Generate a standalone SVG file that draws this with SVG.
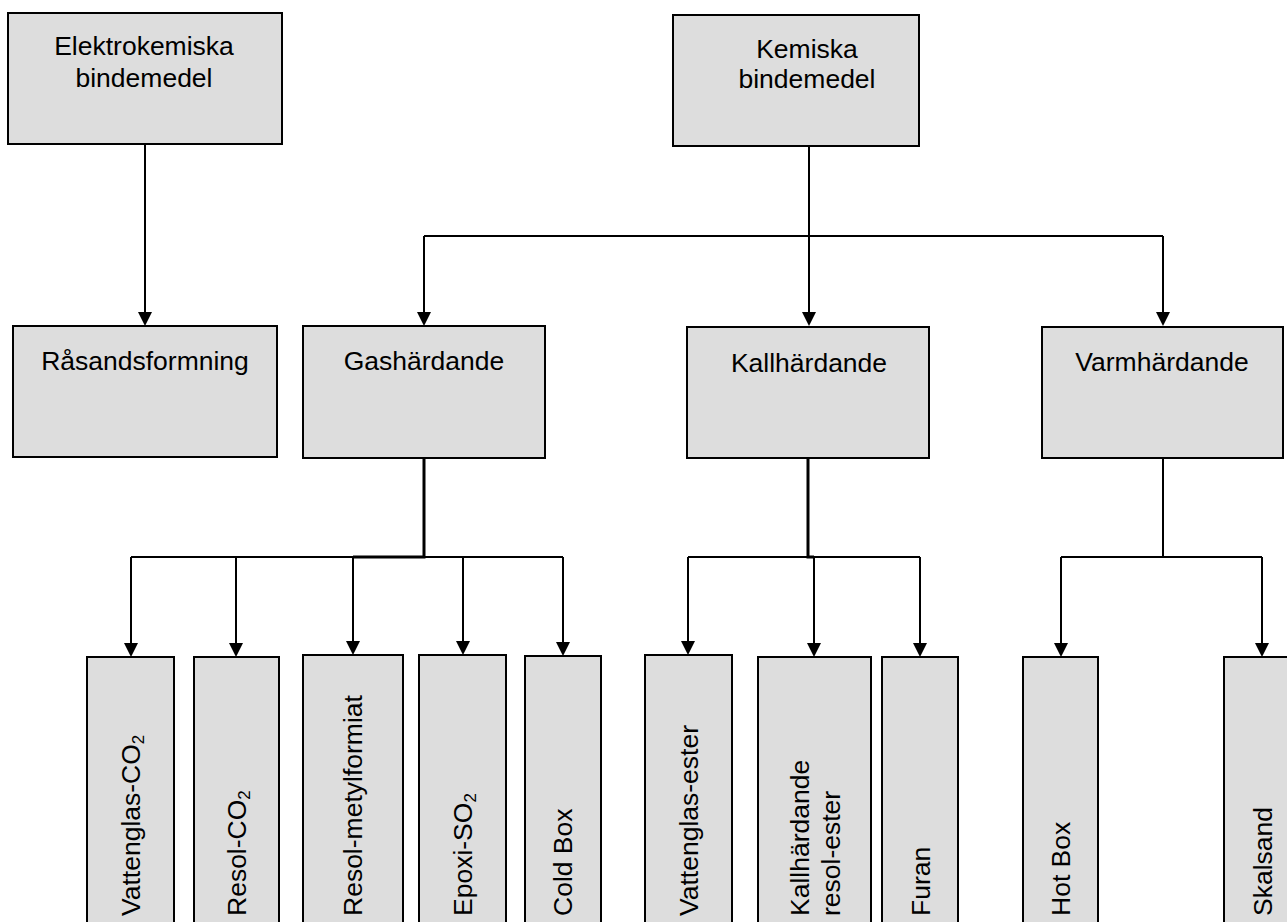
<svg xmlns="http://www.w3.org/2000/svg" width="1287" height="922" viewBox="0 0 1287 922">
<style>
.box{fill:#dddddd;stroke:#000;stroke-width:2}
.t{font-family:"Liberation Sans",Arial,sans-serif;font-size:26.5px;fill:#000}
.c{text-anchor:middle}
.ln{fill:none;stroke:#000;stroke-width:2}
.th{fill:none;stroke:#000;stroke-width:3}
</style>
<defs>
<marker id="ah" markerUnits="userSpaceOnUse" markerWidth="16" markerHeight="16" viewBox="0 0 16 16" refX="8" refY="14" orient="auto-start-reverse">
<path d="M1,0 L15,0 L8,14 Z" fill="#000" transform="rotate(-90 8 8)"/>
</marker>
</defs>
<rect width="1287" height="922" fill="#fff"/>
<g id="connectors">
<path class="ln" d="M145,144 V312"/>
<polygon points="138,312 152,312 145,326" fill="#000"/>
<path class="ln" d="M809,146 V312"/>
<polygon points="802,312 816,312 809,326" fill="#000"/>
<path class="ln" d="M424,236 H1163"/>
<path class="ln" d="M424,236 V312"/>
<polygon points="417,312 431,312 424,326" fill="#000"/>
<path class="ln" d="M1163,236 V312"/>
<polygon points="1156,312 1170,312 1163,326" fill="#000"/>
<path class="th" d="M424,458 V557 H353"/>
<path class="ln" d="M131,557 H563"/>
<path class="ln" d="M131,557 V643"/>
<polygon points="124,643 138,643 131,657" fill="#000"/>
<path class="ln" d="M236,557 V643"/>
<polygon points="229,643 243,643 236,657" fill="#000"/>
<path class="ln" d="M353,557 V641"/>
<polygon points="346,641 360,641 353,655" fill="#000"/>
<path class="ln" d="M463,557 V641"/>
<polygon points="456,641 470,641 463,655" fill="#000"/>
<path class="ln" d="M563,557 V642"/>
<polygon points="556,642 570,642 563,656" fill="#000"/>
<path class="th" d="M808,458 V557 H814"/>
<path class="ln" d="M688,557 H920"/>
<path class="ln" d="M688,557 V641"/>
<polygon points="681,641 695,641 688,655" fill="#000"/>
<path class="ln" d="M814,557 V643"/>
<polygon points="807,643 821,643 814,657" fill="#000"/>
<path class="ln" d="M920,557 V643"/>
<polygon points="913,643 927,643 920,657" fill="#000"/>
<path class="ln" d="M1163,458 V557"/>
<path class="ln" d="M1061,557 H1262"/>
<path class="ln" d="M1061,557 V643"/>
<polygon points="1054,643 1068,643 1061,657" fill="#000"/>
<path class="ln" d="M1262,557 V643"/>
<polygon points="1255,643 1269,643 1262,657" fill="#000"/>
</g>
<g id="elektrokemiska">
<rect class="box" x="8" y="13" width="274" height="131"/>
<text class="t c" x="144" y="55">Elektrokemiska</text>
<text class="t c" x="144" y="87">bindemedel</text>
</g>
<g id="kemiska">
<rect class="box" x="673" y="15" width="246" height="131"/>
<text class="t c" x="807" y="58">Kemiska</text>
<text class="t c" x="807" y="88">bindemedel</text>
</g>
<g id="rasandsformning">
<rect class="box" x="13" y="326" width="264" height="131"/>
<text class="t c" x="145" y="370">Råsandsformning</text>
</g>
<g id="gashardande">
<rect class="box" x="303" y="326" width="242" height="132"/>
<text class="t c" x="424" y="370">Gashärdande</text>
</g>
<g id="kallhardande">
<rect class="box" x="687" y="327" width="242" height="131"/>
<text class="t c" x="809" y="372">Kallhärdande</text>
</g>
<g id="varmhardande">
<rect class="box" x="1042" y="327" width="241" height="131"/>
<text class="t c" x="1162" y="371">Varmhärdande</text>
</g>
<g id="vattenglas-co2">
<rect class="box" x="87" y="657" width="87" height="280"/>
<text class="t" transform="translate(140,916) rotate(-90)">Vattenglas-CO<tspan font-size="17" dy="4">2</tspan></text>
</g>
<g id="resol-co2">
<rect class="box" x="194" y="657" width="85" height="280"/>
<text class="t" transform="translate(246,916) rotate(-90)">Resol-CO<tspan font-size="17" dy="4">2</tspan></text>
</g>
<g id="resol-metylformiat">
<rect class="box" x="303" y="655" width="100" height="280"/>
<text class="t" transform="translate(362,916) rotate(-90)">Resol-metylformiat</text>
</g>
<g id="epoxi-so2">
<rect class="box" x="419" y="655" width="87" height="280"/>
<text class="t" transform="translate(472,916) rotate(-90)">Epoxi-SO<tspan font-size="17" dy="4">2</tspan></text>
</g>
<g id="cold-box">
<rect class="box" x="525" y="656" width="76" height="280"/>
<text class="t" transform="translate(572,916) rotate(-90)">Cold Box</text>
</g>
<g id="vattenglas-ester">
<rect class="box" x="645" y="655" width="87" height="280"/>
<text class="t" transform="translate(698,916) rotate(-90)">Vattenglas-ester</text>
</g>
<g id="kallhardande-resol-ester">
<rect class="box" x="758" y="657" width="113" height="280"/>
<text class="t" transform="translate(809,916) rotate(-90)">Kallhärdande</text>
<text class="t" transform="translate(840,916) rotate(-90)">resol-ester</text>
</g>
<g id="furan">
<rect class="box" x="882" y="657" width="76" height="280"/>
<text class="t" transform="translate(930,916) rotate(-90)">Furan</text>
</g>
<g id="hot-box">
<rect class="box" x="1023" y="657" width="75" height="280"/>
<text class="t" transform="translate(1070,916) rotate(-90)">Hot Box</text>
</g>
<g id="skalsand">
<rect class="box" x="1224" y="657" width="80" height="280"/>
<text class="t" transform="translate(1272,916) rotate(-90)">Skalsand</text>
</g>
</svg>
